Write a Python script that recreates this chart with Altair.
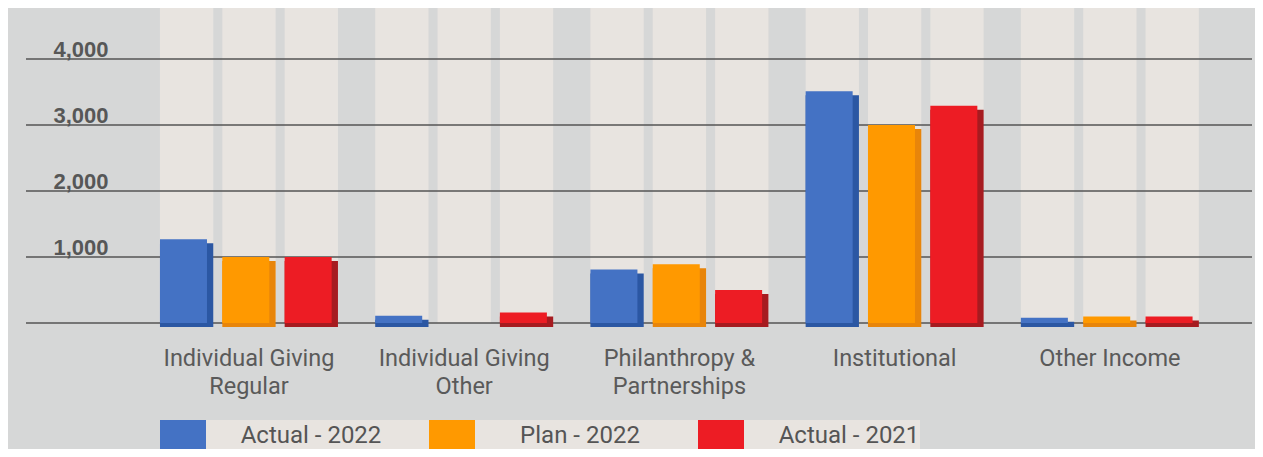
import altair as alt
import pandas as pd

categories = ["Individual Giving|Regular", "Individual Giving|Other",
              "Philanthropy &|Partnerships", "Institutional", "Other Income"]
series = ["Actual - 2022", "Plan - 2022", "Actual - 2021"]
actual_2022 = [1270, 110, 810, 3510, 80]
plan_2022 = [1000, 0, 890, 3000, 100]
actual_2021 = [1000, 160, 500, 3290, 100]
y_ticks = [0, 1000, 2000, 3000, 4000]

front_colors = ["#4472c4", "#ff9900", "#ed1c24"]
side_colors = ["#2b57a3", "#e8850a", "#a61b20"]
YMAX = 4773

rows = []
for s, vals in zip(series, [actual_2022, plan_2022, actual_2021]):
    for c, v in zip(categories, vals):
        rows.append({"category": c, "series": s, "value": v})
df = pd.DataFrame(rows)
ticks_df = pd.DataFrame({"v": y_ticks})

x_axis = alt.Axis(title=None, domain=False, ticks=False, tickSize=0, labelAngle=0,
                  grid=False,
                  labelFont="Roboto", labelFontSize=23.5, labelColor="#5a5a5a",
                  labelExpr="split(datum.label, '|')", labelLineHeight=28,
                  labelPadding=23, labelLimit=400)
y_axis = alt.Axis(values=y_ticks, grid=False, domain=False, ticks=False,
                  tickSize=0, title=None,
                  labelExpr="datum.value == 0 ? '' : format(datum.value, ',')",
                  labelAlign="left", labelPadding=-27,
                  labelBaseline="alphabetic", labelOffset=-3,
                  labelFont="Liberation Sans", labelFontWeight="bold",
                  labelFontSize=22, labelColor="#575757")

x_scale = alt.Scale(paddingInner=0.173, paddingOuter=0.4347, align=0.716)
y_scale = alt.Scale(domain=[0, YMAX], nice=False, zero=True)

def x_enc():
    return alt.X("category:N", sort=categories, scale=x_scale, axis=x_axis)

col_offset = alt.XOffset("series:N", sort=series,
                         scale=alt.Scale(paddingInner=0.145, paddingOuter=0))

background = alt.Chart(df).transform_calculate(top=str(YMAX)).mark_bar(
    color="#e8e4e0"
).encode(
    x=x_enc(),
    xOffset=col_offset,
    y=alt.Y("top:Q", scale=y_scale, axis=y_axis),
)

grid = alt.Chart(ticks_df).mark_rule(color="#555555", strokeWidth=1.5).encode(
    y=alt.Y("v:Q", scale=y_scale, axis=y_axis),
)

side = alt.Chart(df).mark_bar(yOffset=4).encode(
    x=x_enc(),
    xOffset=col_offset,
    y=alt.Y("value:Q", scale=y_scale, axis=y_axis),
    color=alt.Color("series:N", sort=series,
                    scale=alt.Scale(domain=series, range=side_colors), legend=None),
)

front = alt.Chart(df).mark_bar().encode(
    x=x_enc(),
    xOffset=alt.XOffset("series:N", sort=series,
                        scale=alt.Scale(paddingInner=0.246, paddingOuter=0.0505,
                                        align=0)),
    y=alt.Y("value:Q", scale=y_scale, axis=y_axis),
    color=alt.Color("series:N", sort=series,
                    scale=alt.Scale(domain=series, range=front_colors),
                    legend=alt.Legend(orient="none", legendX=134, legendY=412,
                                      direction="horizontal", columns=3,
                                      title=None, symbolType="square",
                                      symbolSize=2116, symbolStrokeWidth=0,
                                      symbolOpacity=1, labelFont="Roboto",
                                      labelFontSize=24, labelColor="#555555",
                                      labelAlign="center", labelOffset=105,
                                      labelBaseline="alphabetic",
                                      fillColor="#e8e4e0", padding=0,
                                      columnPadding=47, gridAlign="all",
                                      labelLimit=400)),
)

chart = alt.layer(background, grid, side, front).resolve_scale(
    color="independent", xOffset="independent"
).properties(
    width=1226, height=315,
    autosize=alt.AutoSizeParams(type="none"),
    padding={"left": 18, "top": 0, "right": 3, "bottom": 126},
    background="#d6d7d7",
).configure_view(stroke=None)

chart.save("out.html", embed_options={"renderer": "svg", "actions": False})
